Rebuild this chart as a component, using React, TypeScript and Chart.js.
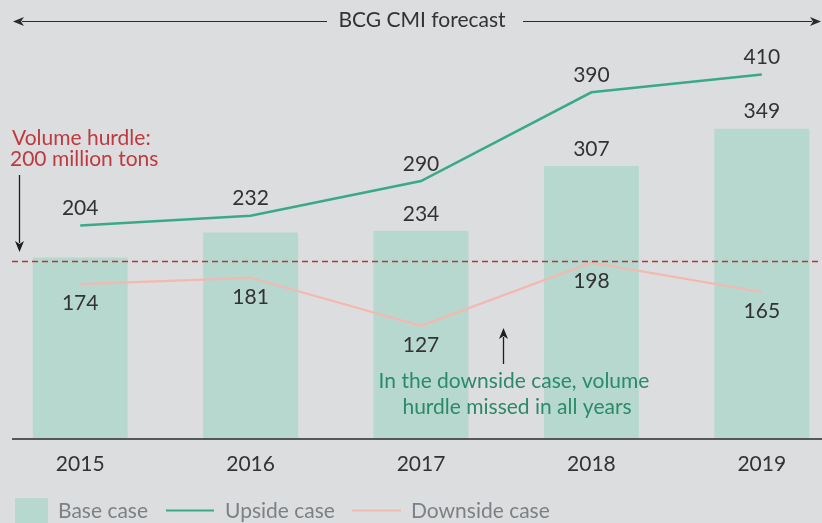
import React, { useEffect, useRef } from "react";
import { Chart, registerables } from "chart.js";

Chart.register(...registerables);

const categories = ["2015", "2016", "2017", "2018", "2019"];
const baseCase = [204, 232, 234, 307, 349];
const upsideCase = [240, 251, 290, 390, 410];
const downsideCase = [174, 181, 127, 198, 165];
// upside values printed on the chart (null = not labelled)
const upsideLabels: (number | null)[] = [null, null, 290, 390, 410];
const hurdleValue = 200;
const yMax = 450;

const seriesNames = ["Base case", "Upside case", "Downside case"];
const titleText = "BCG CMI forecast";
const hurdleText = ["Volume hurdle:", "200 million tons"];
const noteText = ["In the downside case, volume", "hurdle missed in all years"];

const OFF = 5; // canvas starts 5px left of page
const FONT = "Lato, 'Noto Sans', sans-serif";
const BG = "#dcdddf";
const BAR = "#b6d8cf";
const UP = "#3aa98a";
const DOWN = "#f3b8b0";
const RED = "#b8343e";

function arrow(ctx: CanvasRenderingContext2D, x1: number, y1: number, x2: number, y2: number) {
  const ang = Math.atan2(y2 - y1, x2 - x1);
  const len = 11, w = 4.5;
  ctx.beginPath();
  ctx.moveTo(x1, y1);
  ctx.lineTo(x2 - Math.cos(ang) * (len - 2), y2 - Math.sin(ang) * (len - 2));
  ctx.stroke();
  ctx.beginPath();
  ctx.moveTo(x2, y2);
  ctx.lineTo(x2 - Math.cos(ang) * len - Math.sin(ang) * w, y2 - Math.sin(ang) * len + Math.cos(ang) * w);
  ctx.lineTo(x2 - Math.cos(ang) * (len - 3), y2 - Math.sin(ang) * (len - 3));
  ctx.lineTo(x2 - Math.cos(ang) * len + Math.sin(ang) * w, y2 - Math.sin(ang) * len - Math.cos(ang) * w);
  ctx.closePath();
  ctx.fill();
}

const decorPlugin = {
  id: "decor",
  afterDatasetsDraw(chart: any) {
    const ctx: CanvasRenderingContext2D = chart.ctx;
    const xs = chart.scales.x;
    const ys = chart.scales.y;
    const W = 822;
    // cx / yv are canvas coords; fixed decorations use page x + OFF
    const cx = (i: number) => xs.getPixelForValue(i);
    const yv = (v: number) => ys.getPixelForValue(v);
    ctx.save();

    // hurdle dashed line
    const hy = Math.round(yv(hurdleValue)) + 0.5;
    ctx.strokeStyle = RED;
    ctx.lineWidth = 1.3;
    ctx.setLineDash([6, 4]);
    ctx.beginPath();
    ctx.moveTo(OFF + 12, hy);
    ctx.lineTo(OFF + W, hy);
    ctx.stroke();
    ctx.setLineDash([]);

    // x axis line
    const by = ys.getPixelForValue(0) + 0.5;
    ctx.strokeStyle = "#2a2a2a";
    ctx.lineWidth = 1.5;
    ctx.beginPath();
    ctx.moveTo(OFF + 12, by);
    ctx.lineTo(OFF + W, by);
    ctx.stroke();

    ctx.textAlign = "center";
    ctx.textBaseline = "middle";
    ctx.font = `21px ${FONT}`;
    ctx.fillStyle = "#333333";

    // x labels
    categories.forEach((c, i) => ctx.fillText(c, cx(i), by + 25));

    // bar labels
    baseCase.forEach((v, i) => {
      const anchor = upsideLabels[i] == null ? Math.max(v, upsideCase[i]) : v;
      ctx.fillText(String(v), cx(i), yv(anchor) - 17);
    });
    // upside labels
    upsideLabels.forEach((v, i) => {
      if (v == null) return;
      ctx.fillText(String(v), cx(i), yv(upsideCase[i]) - 17);
    });
    // downside labels
    downsideCase.forEach((v, i) => {
      ctx.fillText(String(v), cx(i), yv(v) + 19);
    });

    // title with arrows
    ctx.fillStyle = "#333333";
    ctx.fillText(titleText, OFF + 422, 20);
    ctx.strokeStyle = "#2a2a2a";
    ctx.fillStyle = "#2a2a2a";
    ctx.lineWidth = 1.2;
    arrow(ctx, OFF + 327, 21.5, OFF + 13, 21.5);
    arrow(ctx, OFF + 523, 21.5, OFF + 821, 21.5);

    // hurdle annotation
    ctx.textAlign = "left";
    ctx.fillStyle = "#c0393f";
    ctx.fillText(hurdleText[0], OFF + 12, 138);
    ctx.fillText(hurdleText[1], OFF + 10, 159);
    ctx.strokeStyle = "#1e1e1e";
    ctx.fillStyle = "#1e1e1e";
    ctx.lineWidth = 1.3;
    arrow(ctx, OFF + 19.5, 175, OFF + 19.5, 252);

    // downside note
    arrow(ctx, OFF + 503.5, 364, OFF + 503.5, 328);
    ctx.textAlign = "center";
    ctx.fillStyle = "#2b8a67";
    ctx.fillText(noteText[0], OFF + 514, 381);
    ctx.fillText(noteText[1], OFF + 517, 407);

    // legend
    ctx.textAlign = "left";
    ctx.fillStyle = BAR;
    ctx.fillRect(OFF + 15, 498, 33, 33);
    ctx.fillStyle = "#7b8185";
    ctx.fillText(seriesNames[0], OFF + 58, 511);
    ctx.strokeStyle = UP;
    ctx.lineWidth = 2;
    ctx.beginPath();
    ctx.moveTo(OFF + 166, 510.5);
    ctx.lineTo(OFF + 214, 510.5);
    ctx.stroke();
    ctx.fillText(seriesNames[1], OFF + 225, 511);
    ctx.strokeStyle = DOWN;
    ctx.beginPath();
    ctx.moveTo(OFF + 352, 510.5);
    ctx.lineTo(OFF + 401, 510.5);
    ctx.stroke();
    ctx.fillText(seriesNames[2], OFF + 411, 511);

    ctx.restore();
  },
};

export default function App() {
  const ref = useRef<HTMLCanvasElement | null>(null);
  useEffect(() => {
    if (!ref.current) return;
    const chart = new Chart(ref.current, {
      type: "bar",
      data: {
        labels: categories,
        datasets: [
          {
            type: "line",
            label: seriesNames[1],
            data: upsideCase,
            borderColor: UP,
            borderWidth: 2.5,
            pointRadius: 0,
            tension: 0,
            order: 1,
          } as any,
          {
            type: "line",
            label: seriesNames[2],
            data: downsideCase,
            borderColor: DOWN,
            borderWidth: 2.2,
            pointRadius: 0,
            tension: 0,
            order: 2,
          } as any,
          {
            type: "bar",
            label: seriesNames[0],
            data: baseCase,
            backgroundColor: BAR,
            barPercentage: 0.557,
            categoryPercentage: 1,
            order: 3,
          },
        ],
      },
      options: {
        animation: false,
        responsive: false,
        layout: { padding: { top: 39, bottom: 84.5, left: 0, right: 0 } },
        plugins: { legend: { display: false }, tooltip: { enabled: false } },
        scales: {
          x: { display: false, offset: true },
          y: { display: false, min: 0, max: yMax },
        },
      },
      plugins: [decorPlugin],
    });
    return () => chart.destroy();
  }, []);
  return (
    <div
      style={{
        position: "fixed",
        left: 0,
        top: 0,
        width: 822,
        height: 523,
        overflow: "hidden",
        background: BG,
      }}
    >
      <canvas
        ref={ref}
        width={852}
        height={523}
        style={{ position: "absolute", left: -OFF, top: 0, width: 852, height: 523 }}
      />
    </div>
  );
}
